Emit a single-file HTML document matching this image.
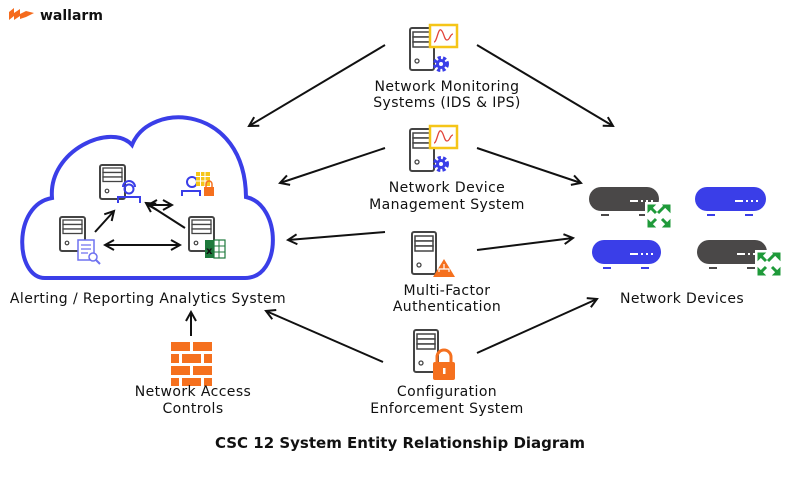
<!DOCTYPE html>
<html><head><meta charset="utf-8"><style>
html,body{margin:0;padding:0;background:#fff}
svg{display:block}
text{font-family:"DejaVu Sans","Liberation Sans",sans-serif;fill:#111}
</style></head><body>
<svg width="800" height="480" viewBox="0 0 800 480" xmlns="http://www.w3.org/2000/svg">
<defs>
<marker id="ah" viewBox="0 0 12 12" refX="10" refY="6" markerWidth="12" markerHeight="12" markerUnits="userSpaceOnUse" orient="auto-start-reverse">
<path d="M1,1 L10,6 L1,11" fill="none" stroke="#111" stroke-width="2"/>
</marker>
<g id="srv">
<rect x="1" y="1" width="24" height="42" rx="2" fill="#fff" stroke="#444" stroke-width="2"/>
<rect x="4" y="5" width="18" height="5" fill="#fff" stroke="#444" stroke-width="1.5"/>
<rect x="4" y="10" width="18" height="5" fill="#fff" stroke="#444" stroke-width="1.5"/>
<rect x="4" y="15" width="18" height="5" fill="#fff" stroke="#444" stroke-width="1.5"/>
<circle cx="8" cy="34" r="2" fill="none" stroke="#444" stroke-width="1.3"/>
</g>
<g id="srvs">
<rect x="1" y="1" width="25" height="34" rx="2" fill="#fff" stroke="#444" stroke-width="2"/>
<rect x="4" y="4" width="19" height="4.5" fill="#fff" stroke="#444" stroke-width="1.3"/>
<rect x="4" y="8.5" width="19" height="4.5" fill="#fff" stroke="#444" stroke-width="1.3"/>
<rect x="4" y="13" width="19" height="4.5" fill="#fff" stroke="#444" stroke-width="1.3"/>
<circle cx="8" cy="27" r="1.8" fill="none" stroke="#444" stroke-width="1.2"/>
</g>
<g id="green">
<rect x="0" y="0" width="28" height="28" fill="#fff"/>
<g stroke="#1f9a3a" stroke-width="3" fill="#1f9a3a">
<path d="M4,4 L11,11 M20,4 L13,11 M4,24 L11,17 M24,24 L17,17"/>
<path d="M3,3 h7 l-7,7z M25,3 h-7 l7,7z M3,25 h7 l-7,-7z M25,25 h-7 l7,-7z" stroke-width="1"/>
</g>
</g>
</defs>

<!-- logo -->
<path d="M9,12 L14,8 L14,13 L20,9 L20,14 L26,11 L34,13 L26,17 L20,19 L20,16 L14,20 L14,16 L9,20 Z" fill="#f56b1e"/>
<text x="40" y="20" font-size="14" font-weight="bold" fill="#222">wallarm</text>

<!-- cloud -->
<path d="M45,278 C15,278 12,205 52,198 C48,150 112,122 132,145 C150,100 245,105 246,197 C282,205 282,278 245,278 Z" fill="#fff" stroke="#3a3ee8" stroke-width="4"/>

<!-- cloud contents -->
<use href="#srvs" x="99" y="164"/>
<circle cx="129" cy="189" r="4.5" fill="none" stroke="#3a3ee8" stroke-width="2"/>
<path d="M123,187 a6,6 0 0 1 12,0" fill="none" stroke="#3a3ee8" stroke-width="2"/>
<path d="M118,203 v-6 h22 v6" fill="none" stroke="#3a3ee8" stroke-width="2"/>

<use href="#srvs" x="59" y="216"/>
<rect x="78" y="240" width="16" height="20" fill="#fff" stroke="#6f72f0" stroke-width="1.5"/>
<path d="M81,245h10M81,249h10M81,253h7" stroke="#6f72f0" stroke-width="1.2"/>
<circle cx="93" cy="257" r="4" fill="#fff" stroke="#6f72f0" stroke-width="1.5"/>
<path d="M96,260 l4,4" stroke="#6f72f0" stroke-width="2"/>

<use href="#srvs" x="188" y="216"/>
<rect x="205" y="240" width="20" height="18" fill="#1e7a3c"/>
<rect x="214" y="240" width="11" height="18" fill="#fff" stroke="#1e7a3c" stroke-width="1.2"/>
<path d="M214,246h11M214,252h11M219,240v18" stroke="#1e7a3c" stroke-width="1"/>
<text x="206" y="254" font-size="10" font-weight="bold" fill="#fff">x</text>

<circle cx="192" cy="182" r="5" fill="none" stroke="#3a3ee8" stroke-width="2"/>
<path d="M182,196 v-5 h18 v5" fill="none" stroke="#3a3ee8" stroke-width="2"/>
<g fill="#f5c518"><rect x="196" y="172" width="14" height="14"/></g>
<path d="M196,176.5h14M196,181h14M200.5,172v14M205,172v14" stroke="#fff" stroke-width="1"/>
<rect x="204" y="187" width="10" height="9" fill="#f5701e"/>
<path d="M206,187 v-3 a3,3 0 0 1 6,0 v3" fill="none" stroke="#f5701e" stroke-width="1.5"/>

<g stroke="#111" stroke-width="2" fill="none">
<line x1="95" y1="232" x2="114" y2="211" marker-end="url(#ah)"/>
<line x1="148" y1="205" x2="172" y2="205" marker-start="url(#ah)" marker-end="url(#ah)"/>
<line x1="185" y1="228" x2="146" y2="203" marker-end="url(#ah)"/>
<line x1="105" y1="245" x2="180" y2="245" marker-start="url(#ah)" marker-end="url(#ah)"/>
</g>

<!-- middle column servers -->
<use href="#srv" x="409" y="27"/>
<rect x="430" y="25" width="27" height="22" fill="#fff" stroke="#f5c518" stroke-width="2.5"/>
<path d="M434,42 c3,0 4,-14 7,-12 c3,2 3,10 6,10 c3,0 3,-6 6,-6" fill="none" stroke="#e2443a" stroke-width="1.3"/>
<circle cx="441" cy="64" r="6" fill="none" stroke="#3a3ee8" stroke-width="4" stroke-dasharray="3 2"/>
<circle cx="441" cy="64" r="5" fill="#3a3ee8"/><circle cx="441" cy="64" r="2" fill="#fff"/>

<use href="#srv" x="409" y="128"/>
<rect x="430" y="126" width="27" height="22" fill="#fff" stroke="#f5c518" stroke-width="2.5"/>
<path d="M434,143 c3,0 4,-14 7,-12 c3,2 3,10 6,10 c3,0 3,-6 6,-6" fill="none" stroke="#e2443a" stroke-width="1.3"/>
<circle cx="441" cy="164" r="6" fill="none" stroke="#3a3ee8" stroke-width="4" stroke-dasharray="3 2"/>
<circle cx="441" cy="164" r="5" fill="#3a3ee8"/><circle cx="441" cy="164" r="2" fill="#fff"/>

<use href="#srv" x="411" y="231"/>
<path d="M444,259 L455,277 L433,277 Z" fill="#f5701e"/>
<path d="M444,264v4M439,272v-3h10v3M444,268v1" stroke="#fff" stroke-width="1.2" fill="none"/>

<use href="#srv" x="413" y="329"/>
<rect x="433" y="362" width="22" height="18" rx="2" fill="#f5701e"/>
<path d="M437,362 v-5 a7,7 0 0 1 14,0 v5" fill="none" stroke="#f5701e" stroke-width="3"/>
<rect x="443" y="368" width="2.5" height="6" fill="#fff"/>

<!-- firewall -->
<g fill="#f5701e">
<rect x="171" y="342" width="19" height="9"/><rect x="193" y="342" width="19" height="9"/>
<rect x="171" y="354" width="8" height="9"/><rect x="182" y="354" width="19" height="9"/><rect x="204" y="354" width="8" height="9"/>
<rect x="171" y="366" width="19" height="9"/><rect x="193" y="366" width="19" height="9"/>
<rect x="171" y="378" width="8" height="8"/><rect x="182" y="378" width="19" height="8"/><rect x="204" y="378" width="8" height="8"/>
</g>

<!-- devices -->
<g>
<rect x="589" y="187" width="70" height="24" rx="12" fill="#4a4848"/>
<path d="M630,201h8M641,201h2M646,201h2M651,201h2" stroke="#fff" stroke-width="2"/>
<path d="M601,215h8M639,215h8" stroke="#4a4848" stroke-width="2"/>
<use href="#green" x="645" y="202"/>
<rect x="695" y="187" width="71" height="24" rx="12" fill="#3a3ee8"/>
<path d="M735,201h8M746,201h2M751,201h2M756,201h2" stroke="#fff" stroke-width="2"/>
<path d="M707,215h8M745,215h8" stroke="#3a3ee8" stroke-width="2"/>
<rect x="592" y="240" width="69" height="24" rx="12" fill="#3a3ee8"/>
<path d="M630,254h8M641,254h2M646,254h2M651,254h2" stroke="#fff" stroke-width="2"/>
<path d="M603,268h8M641,268h8" stroke="#3a3ee8" stroke-width="2"/>
<rect x="697" y="240" width="70" height="24" rx="12" fill="#4a4848"/>
<path d="M737,254h8M748,254h2M753,254h2M758,254h2" stroke="#fff" stroke-width="2"/>
<path d="M709,268h8M747,268h8" stroke="#4a4848" stroke-width="2"/>
<use href="#green" x="755" y="250"/>
</g>

<!-- connectors -->
<g stroke="#111" stroke-width="2" fill="none">
<line x1="385" y1="45" x2="249" y2="126" marker-end="url(#ah)"/>
<line x1="477" y1="45" x2="613" y2="126" marker-end="url(#ah)"/>
<line x1="385" y1="148" x2="280" y2="183" marker-end="url(#ah)"/>
<line x1="477" y1="148" x2="581" y2="183" marker-end="url(#ah)"/>
<line x1="385" y1="232" x2="288" y2="240" marker-end="url(#ah)"/>
<line x1="477" y1="250" x2="573" y2="238" marker-end="url(#ah)"/>
<line x1="383" y1="362" x2="266" y2="311" marker-end="url(#ah)"/>
<line x1="477" y1="353" x2="597" y2="299" marker-end="url(#ah)"/>
<line x1="191" y1="336" x2="191" y2="312" marker-end="url(#ah)"/>
</g>

<!-- labels -->
<g font-size="14" text-anchor="middle" letter-spacing="0.4">
<text x="447" y="91">Network Monitoring</text>
<text x="447" y="107">Systems (IDS &amp; IPS)</text>
<text x="447" y="192">Network Device</text>
<text x="447" y="209">Management System</text>
<text x="447" y="295">Multi-Factor</text>
<text x="447" y="311">Authentication</text>
<text x="447" y="396">Configuration</text>
<text x="447" y="413">Enforcement System</text>
<text x="148" y="303">Alerting / Reporting Analytics System</text>
<text x="193" y="396">Network Access</text>
<text x="193" y="413">Controls</text>
<text x="682" y="303">Network Devices</text>
</g>
<text x="400" y="448" font-size="15" font-weight="bold" text-anchor="middle">CSC 12 System Entity Relationship Diagram</text>
</svg>
</body></html>
